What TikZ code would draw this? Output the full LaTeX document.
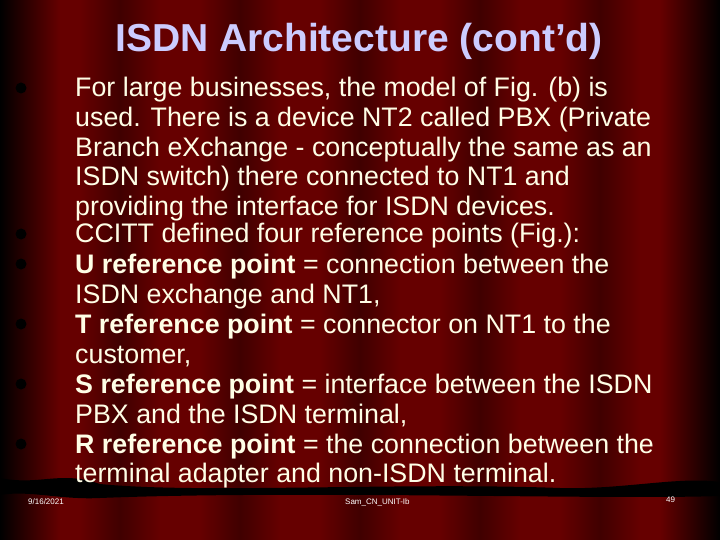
\documentclass[tikz,border=0pt]{standalone}
\usepackage{fontspec}
\setmainfont{Liberation Sans}
\begin{document}
\begin{tikzpicture}[x=1pt,y=-1pt,
  line/.style={anchor=base west,text=white!90!yellow,font=\fontsize{26.8}{26.8}\selectfont,inner sep=0},
  bul/.style={circle,fill=black,inner sep=0,minimum size=11pt},
  foot/.style={text=white,font=\fontsize{8}{8}\selectfont,anchor=base west,inner sep=0}]
\useasboundingbox (0,0) rectangle (720,540);
\fill[red!40!black] (0,0) rectangle (720,540);
\shade[left color=black,right color=red!40!black] (0,0) rectangle (60,540);
\shade[right color=black,left color=red!40!black] (660,0) rectangle (720,540);
\foreach \x in {120,240,360,480,600}{
  \shade[left color=red!40!black,right color=red!25!black] (\x-40,0) rectangle (\x,540);
  \shade[left color=red!25!black,right color=red!40!black] (\x,0) rectangle (\x+40,540);}
\fill[black] (0,478) .. controls (40,486) and (60,470) .. (100,484) .. controls (200,494) and (400,482) .. (560,488)
  .. controls (620,490) and (680,476) .. (720,482) -- (720,496) .. controls (600,500) and (300,490) .. (100,498)
  .. controls (60,500) and (30,490) .. (0,495) -- cycle;
\node[text=blue!20!white,font=\bfseries\fontsize{39}{39}\selectfont,anchor=base,inner sep=0] (t) at (359,52) {ISDN Architecture (cont’d)};
\node[line] (l1) at (75,97) {For large businesses, the model of Fig. (b) is};
\node[line] (l2) at (75,127) {used. There is a device NT2 called PBX (Private};
\node[line] (l3) at (75,157) {Branch eXchange - conceptually the same as an};
\node[line] (l4) at (75,186) {ISDN switch) there connected to NT1 and};
\node[line] (l5) at (75,215) {providing the interface for ISDN devices.};
\node[line] (l6) at (75,243) {CCITT defined four reference points (Fig.):};
\node[line] (l7) at (75,273) {\textbf{U reference point} = connection between the};
\node[line] (l8) at (75,303) {ISDN exchange and NT1,};
\node[line] (l9) at (75,333) {\textbf{T reference point} = connector on NT1 to the};
\node[line] (l10) at (75,363) {customer,};
\node[line] (l11) at (75,393) {\textbf{S reference point} = interface between the ISDN};
\node[line] (l12) at (75,423) {PBX and the ISDN terminal,};
\node[line] (l13) at (75,453) {\textbf{R reference point} = the connection between the};
\node[line] (l14) at (75,482) {terminal adapter and non-ISDN terminal.};
\foreach \n/\y in {b1/88,b2/234,b3/264,b4/324,b5/384,b6/444}{\node[bul] (\n) at (21,\y) {};}
\node[foot] (f1) at (28,504) {9/16/2021};
\node[foot] (f2) at (345,504) {Sam\_CN\_UNIT-Ib};
\node[foot] (f3) at (666,502) {49};
\end{tikzpicture}
\end{document}
